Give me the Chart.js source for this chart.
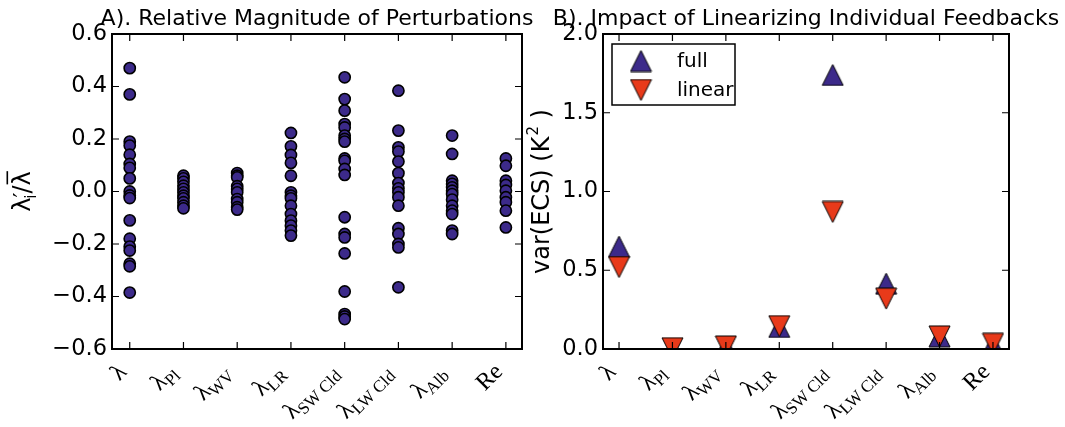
<!DOCTYPE html>
<html>
<head>
    <title>Feedback Perturbations</title>
    <script src="https://cdn.jsdelivr.net/npm/chart.js"></script>
    <style>
        body { margin: 0; background: #fff; }
        #wrap { position: relative; width: 1065px; height: 427px; }
        #wrap canvas { position: absolute; left: 0; top: 0; }
    </style>
</head>
<body>
    <div id="wrap">
        <canvas id="pertChart" width="1065" height="427"></canvas>
        <canvas id="varChart" width="1065" height="427"></canvas>
    </div>
    <script>
        // x categories: main symbol + subscript
        const tickMain = ['λ', 'λ', 'λ', 'λ', 'λ', 'λ', 'λ', 'Re'];
        const tickSub = ['', 'Pl', 'WV', 'LR', 'SW Cld', 'LW Cld', 'Alb', ''];

        // Panel A: relative perturbations lambda'_i / mean lambda
        const lambdaTotal = [0.47, 0.37, 0.19, 0.175, 0.14, 0.105, 0.09, 0.05, 0.0, -0.015, -0.025, -0.11, -0.18, -0.21, -0.225, -0.275, -0.285, -0.385];
        const lambdaPl = [0.06, 0.05, 0.037, 0.022, 0.01, -0.003, -0.016, -0.026, -0.041, -0.054, -0.064];
        const lambdaWV = [0.07, 0.06, 0.054, 0.02, 0.01, -0.003, -0.029, -0.041, -0.06, -0.069];
        const lambdaLR = [0.223, 0.172, 0.139, 0.109, 0.06, -0.003, -0.016, -0.026, -0.054, -0.086, -0.111, -0.13, -0.149, -0.168];
        const lambdaSWCld = [0.435, 0.352, 0.308, 0.257, 0.244, 0.213, 0.2, 0.19, 0.126, 0.117, 0.086, 0.063, -0.098, -0.162, -0.175, -0.236, -0.381, -0.467, -0.476, -0.486];
        const lambdaLWCld = [0.384, 0.232, 0.168, 0.152, 0.114, 0.07, 0.032, 0.012, -0.003, -0.022, -0.054, -0.14, -0.162, -0.2, -0.213, -0.365];
        const lambdaAlb = [0.213, 0.143, 0.041, 0.029, 0.016, 0.003, -0.01, -0.031, -0.054, -0.073, -0.086, -0.149, -0.162];
        const ratioRe = [0.126, 0.098, 0.041, 0.025, 0.003, -0.022, -0.041, -0.073, -0.137];
        const perturbations = [lambdaTotal, lambdaPl, lambdaWV, lambdaLR, lambdaSWCld, lambdaLWCld, lambdaAlb, ratioRe];

        // Panel B: var(ECS) in K^2
        const varFull = [0.65, 0.002, 0.015, 0.14, 1.74, 0.415, 0.08, 0.03];
        const varLinear = [0.52, 0.005, 0.016, 0.145, 0.87, 0.32, 0.08, 0.033];

        const yTicksA = [-0.6, -0.4, -0.2, 0.0, 0.2, 0.4, 0.6];
        const yTicksB = [0.0, 0.5, 1.0, 1.5, 2.0];

        const SANS = '"DejaVu Sans", sans-serif';
        const SERIF = '"Liberation Serif", "DejaVu Serif", serif';
        const INDIGO = '#3c2a8a';
        const RED = '#e83a1a';
        const TICK = 7;

        function triangleMarker(color, up) {
            const s = 21;
            const c = document.createElement('canvas');
            c.width = s + 2; c.height = s + 2;
            const g = c.getContext('2d');
            g.beginPath();
            if (up) { g.moveTo(1 + s / 2, 1); g.lineTo(1 + s, 1 + s); g.lineTo(1, 1 + s); }
            else { g.moveTo(1, 1); g.lineTo(1 + s, 1); g.lineTo(1 + s / 2, 1 + s); }
            g.closePath();
            g.fillStyle = color; g.fill();
            g.lineWidth = 1; g.strokeStyle = '#000'; g.stroke();
            return c;
        }
        const upMarker = triangleMarker(INDIGO, true);
        const downMarker = triangleMarker(RED, false);

        // rich text helpers (sub/superscripts)
        function layoutRich(ctx, segs) {
            let w = 0, top = 0, bottom = 0;
            segs.forEach(s => {
                ctx.font = s.font;
                const m = ctx.measureText(s.text);
                s.x = w + (s.dx || 0);
                s.w = m.width;
                w = s.x + m.width;
                top = Math.min(top, (s.dy || 0) - m.actualBoundingBoxAscent - (s.bar ? 4 : 0));
                bottom = Math.max(bottom, (s.dy || 0) + m.actualBoundingBoxDescent);
                s.asc = m.actualBoundingBoxAscent;
            });
            return { w, top, bottom };
        }
        function fillRich(ctx, segs, x0) {
            segs.forEach(s => {
                ctx.font = s.font;
                ctx.fillText(s.text, x0 + s.x, s.dy || 0);
                if (s.bar) {
                    ctx.fillRect(x0 + s.x + 1, (s.dy || 0) - s.asc - 4, s.w - 1, 1.6);
                }
            });
        }

        function xLabelSegs(i) {
            const segs = [{ text: tickMain[i], font: '24px ' + SERIF }];
            if (tickSub[i]) segs.push({ text: tickSub[i], font: '17px ' + SERIF, dy: 5 });
            return segs;
        }

        function fmt(v) {
            return v.toFixed(1).replace('-', '\u2212');
        }

        function panelDecor(cfg) {
            return {
                id: 'decor',
                afterDatasetsDraw(chart) {
                    const ctx = chart.ctx, a = chart.chartArea;
                    const xs = chart.scales.x, ys = chart.scales.y;
                    ctx.save();
                    ctx.strokeStyle = '#000';
                    ctx.fillStyle = '#000';

                    // inward ticks on all four sides
                    ctx.lineWidth = 1.2;
                    ctx.beginPath();
                    tickMain.forEach((t, i) => {
                        const px = xs.getPixelForValue(i);
                        ctx.moveTo(px, a.bottom); ctx.lineTo(px, a.bottom - TICK);
                        ctx.moveTo(px, a.top); ctx.lineTo(px, a.top + TICK);
                    });
                    ys.ticks.forEach(t => {
                        const py = ys.getPixelForValue(t.value);
                        ctx.moveTo(a.left, py); ctx.lineTo(a.left + TICK, py);
                        ctx.moveTo(a.right, py); ctx.lineTo(a.right - TICK, py);
                    });
                    ctx.stroke();
                    ctx.lineWidth = 2;
                    ctx.strokeRect(a.left, a.top, a.right - a.left, a.bottom - a.top);

                    // panel title
                    ctx.font = '22px ' + SANS;
                    ctx.textAlign = 'center';
                    ctx.textBaseline = 'alphabetic';
                    ctx.fillText(cfg.title, (a.left + a.right) / 2, 25);

                    // rotated x tick labels, right/top aligned on the tick
                    ctx.textAlign = 'left';
                    const k = Math.SQRT1_2;
                    tickMain.forEach((t, i) => {
                        const segs = xLabelSegs(i);
                        const b = layoutRich(ctx, segs);
                        const R = xs.getPixelForValue(i) - 2, T = a.bottom + 13;
                        const ox = R - k * (b.w + b.bottom);
                        const oy = T - k * (b.top - b.w);
                        ctx.save();
                        ctx.translate(ox, oy);
                        ctx.rotate(-Math.PI / 4);
                        fillRich(ctx, segs, 0);
                        ctx.restore();
                    });

                    // y axis title
                    const segs = cfg.yTitle;
                    const b = layoutRich(ctx, segs);
                    ctx.save();
                    ctx.translate(cfg.yTitleX - (b.top + b.bottom) / 2, (a.top + a.bottom) / 2);
                    ctx.rotate(-Math.PI / 2);
                    fillRich(ctx, segs, -b.w / 2);
                    ctx.restore();

                    if (cfg.legend) {
                        const L = cfg.legend;
                        ctx.fillStyle = '#fff';
                        ctx.fillRect(L.x, L.y, L.w, L.h);
                        ctx.lineWidth = 1.5;
                        ctx.strokeRect(L.x, L.y, L.w, L.h);
                        ctx.fillStyle = '#000';
                        ctx.font = '20px ' + SANS;
                        ctx.textBaseline = 'middle';
                        chart.data.datasets.forEach((ds, j) => {
                            const m = ds.pointStyle;
                            const cy = L.y + 17 + j * 29;
                            ctx.drawImage(m, L.x + 29 - m.width / 2, cy - m.height / 2);
                            ctx.fillText(ds.label, L.x + 65, cy + 1);
                        });
                    }
                    ctx.restore();
                }
            };
        }

        function yScale(min, max, ticks, width) {
            return {
                min: min, max: max,
                afterBuildTicks: s => { s.ticks = ticks.map(v => ({ value: v })); },
                afterFit: s => { s.width = width; },
                grid: { display: false, drawTicks: false },
                border: { display: false },
                ticks: {
                    color: '#000', padding: 5,
                    font: { family: 'DejaVu Sans', size: 22.5 },
                    callback: v => fmt(v)
                }
            };
        }
        function xScale(min, max) {
            return {
                type: 'linear', min: min, max: max,
                afterFit: s => { s.height = 0; },
                grid: { display: false, drawTicks: false },
                border: { display: false },
                ticks: { display: false }
            };
        }

        const common = {
            responsive: false,
            animation: false,
            events: [],
            plugins: { legend: { display: false }, tooltip: { enabled: false } }
        };

        // Panel A
        const pertPoints = [];
        perturbations.forEach((vals, i) => vals.forEach(v => pertPoints.push({ x: i, y: v })));
        new Chart(document.getElementById('pertChart'), {
            type: 'scatter',
            data: {
                datasets: [{
                    data: pertPoints,
                    pointRadius: 5.6,
                    pointBackgroundColor: INDIGO,
                    pointBorderColor: '#000',
                    pointBorderWidth: 1.6,
                    clip: 0
                }]
            },
            options: Object.assign({}, common, {
                layout: { padding: { left: 0, top: 34, right: 1065 - 522, bottom: 427 - 349 } },
                scales: { x: xScale(-0.33, 7.3), y: yScale(-0.6, 0.6, yTicksA, 112) }
            }),
            plugins: [panelDecor({
                title: 'A). Relative Magnitude of Perturbations',
                yTitleX: 21,
                yTitle: [
                    { text: 'λ', font: '24px ' + SANS },
                    { text: '′', font: '22px ' + SANS, dy: -1 },
                    { text: 'i', font: '15px ' + SANS, dy: 6, dx: -6 },
                    { text: '/', font: '24px ' + SANS, dx: 1 },
                    { text: 'λ', font: '24px ' + SANS, bar: true }
                ]
            })]
        });

        // Panel B
        new Chart(document.getElementById('varChart'), {
            type: 'scatter',
            data: {
                datasets: [{
                    label: 'full',
                    data: varFull.map((v, i) => ({ x: i, y: v })),
                    pointStyle: upMarker,
                    order: 2,
                    clip: 0
                }, {
                    label: 'linear',
                    data: varLinear.map((v, i) => ({ x: i, y: v })),
                    pointStyle: downMarker,
                    order: 1,
                    clip: 0
                }]
            },
            options: Object.assign({}, common, {
                layout: { padding: { left: 530, top: 34, right: 1065 - 1009, bottom: 427 - 349 } },
                scales: { x: xScale(-0.3, 7.3), y: yScale(0, 2, yTicksB, 73) }
            }),
            plugins: [panelDecor({
                title: 'B). Impact of Linearizing Individual Feedbacks',
                yTitleX: 539,
                yTitle: [
                    { text: 'var(ECS) (K', font: '24px ' + SANS },
                    { text: '2', font: '15px ' + SANS, dy: -11, dx: 1 },
                    { text: ' )', font: '24px ' + SANS }
                ],
                legend: { x: 612, y: 44, w: 123, h: 61 }
            })]
        });
    </script>
</body>
</html>
